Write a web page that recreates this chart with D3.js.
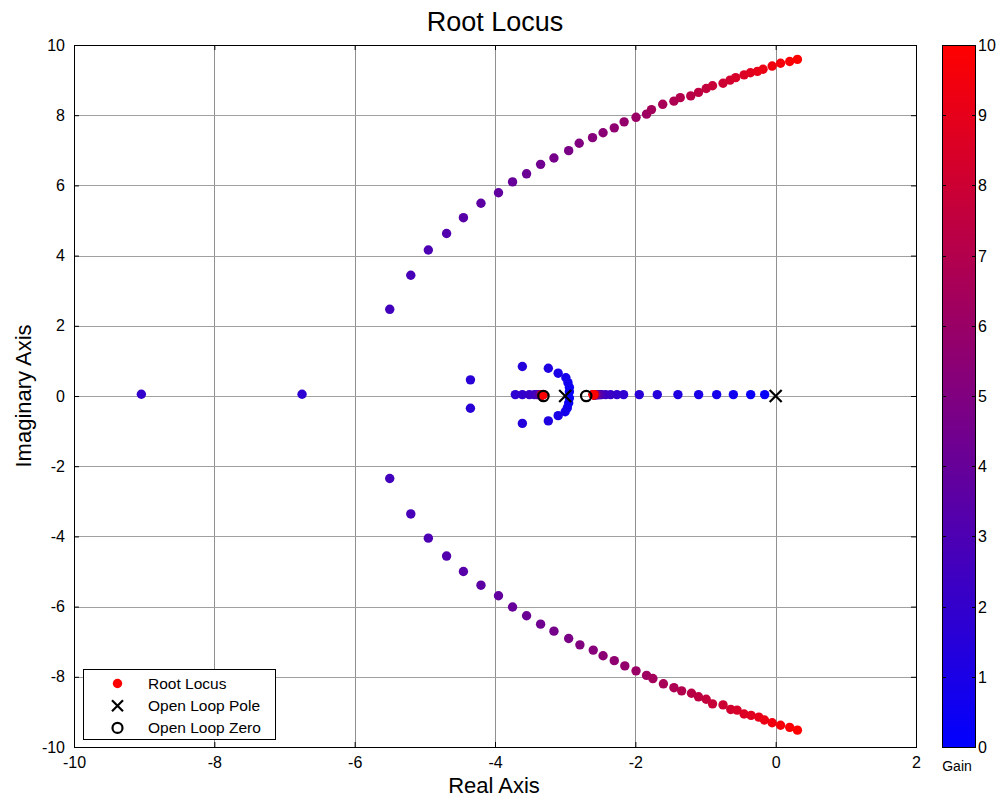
<!DOCTYPE html>
<html>
<head>
<meta charset="utf-8">
<script src="https://cdn.jsdelivr.net/npm/d3@7"></script>
<style>
  html, body { margin: 0; padding: 0; background: #fff; }
  svg { display: block; font-family: "Liberation Sans", Arial, Helvetica, sans-serif; }
</style>
</head>
<body>
<svg id="chart" width="1000" height="798"></svg>
<script>
// Gain values used for the sweep (one root set per gain)
const gains = [0.2, 0.4, 0.6, 0.8, 1.0, 1.2, 1.4, 1.6, 1.8, 2.0,
               2.2, 2.4, 2.6, 2.8, 3.0, 3.2, 3.4, 3.6, 3.8, 4.0,
               4.2, 4.4, 4.6, 4.8, 5.0, 5.2, 5.4, 5.6, 5.8, 6.0,
               6.2, 6.4, 6.6, 6.8, 7.0, 7.2, 7.4, 7.6, 7.8, 8.0,
               8.2, 8.4, 8.6, 8.8, 9.0, 9.2, 9.4, 9.6, 9.8, 10.0];

// Real-axis branch leaving the pole at 0 toward the zero at -2.7 (gains 0.2 .. 10)
const branchReal = [-0.157, -0.356, -0.603, -0.841, -1.098, -1.393, -1.687, -1.944, -2.167, -2.262,
                    -2.352, -2.423, -2.480, -2.500, -2.515, -2.527, -2.537, -2.545, -2.552, -2.558,
                    -2.563, -2.567, -2.571, -2.574, -2.577, -2.579, -2.581, -2.583, -2.585, -2.586,
                    -2.587, -2.588, -2.589, -2.590, -2.591, -2.592, -2.593, -2.594, -2.594, -2.595,
                    -2.595, -2.596, -2.596, -2.597, -2.597, -2.598, -2.598, -2.599, -2.599, -2.600];
const branchRealIm = 0.04;

// Complex pair leaving the pole at -3 (gains 0.2 .. 1.6)
const arcUpper = [[-2.94, 0.12], [-2.94, 0.25], [-2.96, 0.38], [-2.99, 0.52],
                  [-3.10, 0.65], [-3.24, 0.79], [-3.61, 0.84], [-4.35, 0.46]];
const arcLower = [[-2.94, -0.06], [-2.95, -0.20], [-2.97, -0.34], [-3.00, -0.45],
                  [-3.10, -0.56], [-3.24, -0.71], [-3.61, -0.78], [-4.35, -0.35]];

// After break-in: one root heads for the zero at -3.3 (gains 1.8 .. 10)
const branchLeftReal = [-3.71, -3.61, -3.51, -3.44, -3.40, -3.38, -3.37, -3.362, -3.356, -3.351,
                        -3.347, -3.344, -3.341, -3.339, -3.337, -3.335, -3.333, -3.332, -3.331, -3.330,
                        -3.329, -3.328, -3.327, -3.326, -3.325, -3.325, -3.324, -3.324, -3.323, -3.323,
                        -3.322, -3.322, -3.321, -3.321, -3.320, -3.320, -3.320, -3.319, -3.319, -3.319,
                        -3.318, -3.318];
// ... and the other runs off toward -infinity (gains 1.8, 2.0)
const branchFarLeft = [[-6.75, 0.05], [-9.04, 0.05]];

// Outer complex pair crossing into the right half-plane (gains 2.6 .. 10)
const branchUpper = [[-5.50, 2.47], [-5.20, 3.44], [-4.95, 4.16], [-4.69, 4.63], [-4.45, 5.08],
                     [-4.20, 5.49], [-3.95, 5.79], [-3.75, 6.10], [-3.55, 6.33], [-3.35, 6.60],
                     [-3.16, 6.78], [-2.95, 6.99], [-2.80, 7.20], [-2.61, 7.36], [-2.46, 7.50],
                     [-2.30, 7.64], [-2.16, 7.81], [-1.99, 7.94], [-1.84, 8.03], [-1.77, 8.16],
                     [-1.61, 8.31], [-1.45, 8.40], [-1.36, 8.50], [-1.21, 8.55], [-1.10, 8.65],
                     [-0.99, 8.76], [-0.90, 8.84], [-0.75, 8.91], [-0.65, 9.00], [-0.57, 9.07],
                     [-0.45, 9.15], [-0.36, 9.21], [-0.26, 9.25], [-0.18, 9.31], [-0.05, 9.40],
                     [0.07, 9.48], [0.20, 9.53], [0.31, 9.59]];
const branchLower = [[-5.50, -2.35], [-5.20, -3.36], [-4.95, -4.05], [-4.69, -4.56], [-4.45, -5.00],
                     [-4.20, -5.39], [-3.95, -5.69], [-3.75, -6.01], [-3.55, -6.26], [-3.35, -6.50],
                     [-3.16, -6.70], [-2.95, -6.91], [-2.79, -7.09], [-2.60, -7.24], [-2.46, -7.40],
                     [-2.30, -7.54], [-2.15, -7.69], [-1.99, -7.83], [-1.84, -7.96], [-1.75, -8.05],
                     [-1.60, -8.20], [-1.45, -8.31], [-1.34, -8.40], [-1.20, -8.47], [-1.10, -8.57],
                     [-0.99, -8.64], [-0.90, -8.77], [-0.75, -8.80], [-0.64, -8.93], [-0.55, -8.95],
                     [-0.45, -9.06], [-0.35, -9.10], [-0.24, -9.15], [-0.16, -9.23], [-0.05, -9.31],
                     [0.07, -9.38], [0.20, -9.44], [0.31, -9.52]];

// Open-loop poles and zeros
const poles = [[0, 0], [-3, 0]];
const zeros = [[-2.7, 0], [-3.31, 0]];

// Axis ticks
const xTicks = [-10, -8, -6, -4, -2, 0, 2];
const yTicks = [-10, -8, -6, -4, -2, 0, 2, 4, 6, 8, 10];
const gainTicks = [0, 1, 2, 3, 4, 5, 6, 7, 8, 9, 10];

const legendItems = ["Root Locus", "Open Loop Pole", "Open Loop Zero"];

// ---------------------------------------------------------------
const svg = d3.select("#chart");
const plot = { left: 74, right: 916, top: 45, bottom: 747 };
const x = d3.scaleLinear().domain([-10, 2]).range([plot.left, plot.right]);
const y = d3.scaleLinear().domain([-10, 10]).range([plot.bottom, plot.top]);
const gainScale = d3.scaleLinear().domain([0, 10]).range([747, 45]);
const gainColor = d3.scaleLinear().domain([0, 10]).range(["#0000ff", "#ff0000"]).interpolate(d3.interpolateRgb);

svg.append("rect").attr("width", 1000).attr("height", 798).attr("fill", "#fff");

// grid
const grid = svg.append("g");
grid.selectAll("line.gx").data(xTicks.slice(1, -1)).join("line")
  .attr("x1", d => Math.round(x(d)) + 0.5).attr("x2", d => Math.round(x(d)) + 0.5)
  .attr("y1", plot.top).attr("y2", plot.bottom)
  .attr("stroke", "#909090").attr("stroke-width", 1);
grid.selectAll("line.gy").data(yTicks.slice(1, -1)).join("line")
  .attr("y1", d => Math.round(y(d)) + 0.5).attr("y2", d => Math.round(y(d)) + 0.5)
  .attr("x1", plot.left).attr("x2", plot.right)
  .attr("stroke", "#a0a0a0").attr("stroke-width", 1.2);

// axes with inward ticks on all four sides
const fmt = d => (d < 0 ? "-" + Math.abs(d) : String(d));
const axB = svg.append("g").attr("transform", `translate(0,${plot.bottom})`)
  .call(d3.axisBottom(x).tickValues(xTicks).tickSizeInner(-5).tickSizeOuter(0).tickPadding(10).tickFormat(fmt));
const axT = svg.append("g").attr("transform", `translate(0,${plot.top})`)
  .call(d3.axisTop(x).tickValues(xTicks).tickSizeInner(-5).tickSizeOuter(0).tickFormat(""));
const axL = svg.append("g").attr("transform", `translate(${plot.left},0)`)
  .call(d3.axisLeft(y).tickValues(yTicks).tickSizeInner(-5).tickSizeOuter(0).tickPadding(9).tickFormat(fmt));
const axR = svg.append("g").attr("transform", `translate(${plot.right},0)`)
  .call(d3.axisRight(y).tickValues(yTicks).tickSizeInner(-5).tickSizeOuter(0).tickFormat(""));
[axB, axT, axL, axR].forEach(a => {
  a.select(".domain").remove();
  a.selectAll("line").attr("stroke", "#000");
  a.selectAll("text").attr("font-size", 16).attr("fill", "#000")
    .attr("font-family", "'Liberation Sans', Arial, sans-serif");
});
svg.append("rect").attr("x", plot.left + 0.5).attr("y", plot.top + 0.5)
  .attr("width", plot.right - plot.left).attr("height", plot.bottom - plot.top)
  .attr("fill", "none").attr("stroke", "#000").attr("stroke-width", 1);

// assemble root points per gain, drawn from low gain to high gain
const pts = [];
gains.forEach((k, i) => {
  pts.push({ re: branchReal[i], im: branchRealIm, k });
  if (i < arcUpper.length) {
    pts.push({ re: arcUpper[i][0], im: arcUpper[i][1], k });
    pts.push({ re: arcLower[i][0], im: arcLower[i][1], k });
  }
  const li = i - 8;
  if (li >= 0 && li < branchLeftReal.length) pts.push({ re: branchLeftReal[li], im: branchRealIm, k });
  if (li >= 0 && li < branchFarLeft.length) pts.push({ re: branchFarLeft[li][0], im: branchFarLeft[li][1], k });
  const ui = i - 12;
  if (ui >= 0 && ui < branchUpper.length) {
    pts.push({ re: branchUpper[ui][0], im: branchUpper[ui][1], k });
    pts.push({ re: branchLower[ui][0], im: branchLower[ui][1], k });
  }
});

svg.append("g").selectAll("circle").data(pts).join("circle")
  .attr("cx", d => x(d.re)).attr("cy", d => y(d.im)).attr("r", 4.7)
  .attr("fill", d => gainColor(d.k));

// poles (x) and zeros (o)
const xs = 6;
svg.append("g").selectAll("path").data(poles).join("path")
  .attr("d", d => `M${x(d[0]) - xs},${y(d[1]) - xs}L${x(d[0]) + xs},${y(d[1]) + xs}M${x(d[0]) - xs},${y(d[1]) + xs}L${x(d[0]) + xs},${y(d[1]) - xs}`)
  .attr("stroke", "#000").attr("stroke-width", 2.2).attr("fill", "none");
svg.append("g").selectAll("circle").data(zeros).join("circle")
  .attr("cx", d => x(d[0])).attr("cy", d => y(d[1])).attr("r", 5.2)
  .attr("stroke", "#000").attr("stroke-width", 2.2).attr("fill", "none");

// titles
svg.append("text").attr("x", 495).attr("y", 31).attr("text-anchor", "middle")
  .attr("font-size", 27).text("Root Locus");
svg.append("text").attr("x", 494).attr("y", 793).attr("text-anchor", "middle")
  .attr("font-size", 22).text("Real Axis");
svg.append("text").attr("transform", "translate(31,396) rotate(-90)").attr("text-anchor", "middle")
  .attr("font-size", 22).text("Imaginary Axis");

// legend
const lg = svg.append("g");
lg.append("rect").attr("x", 83.5).attr("y", 669.5).attr("width", 192).attr("height", 70)
  .attr("fill", "#fff").attr("stroke", "#000").attr("stroke-width", 1);
legendItems.forEach((t, i) => {
  const cy = 683.5 + i * 22.2;
  lg.append("text").attr("x", 148).attr("y", cy + 5.5).attr("font-size", 15.5).text(t);
  if (i === 0) lg.append("circle").attr("cx", 117.5).attr("cy", cy).attr("r", 4.7).attr("fill", "#ff0000");
  if (i === 1) lg.append("path")
    .attr("d", `M${117.5 - 5.5},${cy - 5.5}L${117.5 + 5.5},${cy + 5.5}M${117.5 - 5.5},${cy + 5.5}L${117.5 + 5.5},${cy - 5.5}`)
    .attr("stroke", "#000").attr("stroke-width", 2.2);
  if (i === 2) lg.append("circle").attr("cx", 117.5).attr("cy", cy).attr("r", 5)
    .attr("fill", "none").attr("stroke", "#000").attr("stroke-width", 2.2);
});

// colorbar
const cb = { x: 942, w: 33 };
const defs = svg.append("defs");
const grad = defs.append("linearGradient").attr("id", "gainGrad")
  .attr("x1", 0).attr("y1", 1).attr("x2", 0).attr("y2", 0);
gainTicks.forEach(g => grad.append("stop").attr("offset", g / 10).attr("stop-color", gainColor(g)));
svg.append("rect").attr("x", cb.x + 0.5).attr("y", gainScale(10) + 0.5).attr("width", cb.w)
  .attr("height", gainScale(0) - gainScale(10)).attr("fill", "url(#gainGrad)")
  .attr("stroke", "#000").attr("stroke-width", 1);
const cbTicks = svg.append("g");
gainTicks.forEach(g => {
  const ty = Math.round(gainScale(g)) + 0.5;
  cbTicks.append("line").attr("x1", cb.x).attr("x2", cb.x + 4).attr("y1", ty).attr("y2", ty).attr("stroke", "#000");
  cbTicks.append("line").attr("x1", cb.x + cb.w - 3).attr("x2", cb.x + cb.w + 1).attr("y1", ty).attr("y2", ty).attr("stroke", "#000");
  cbTicks.append("text").attr("x", cb.x + cb.w + 3).attr("y", gainScale(g) + 6).attr("font-size", 16).text(g);
});
svg.append("text").attr("x", 957).attr("y", 771).attr("text-anchor", "middle").attr("font-size", 14).text("Gain");
</script>
</body>
</html>
